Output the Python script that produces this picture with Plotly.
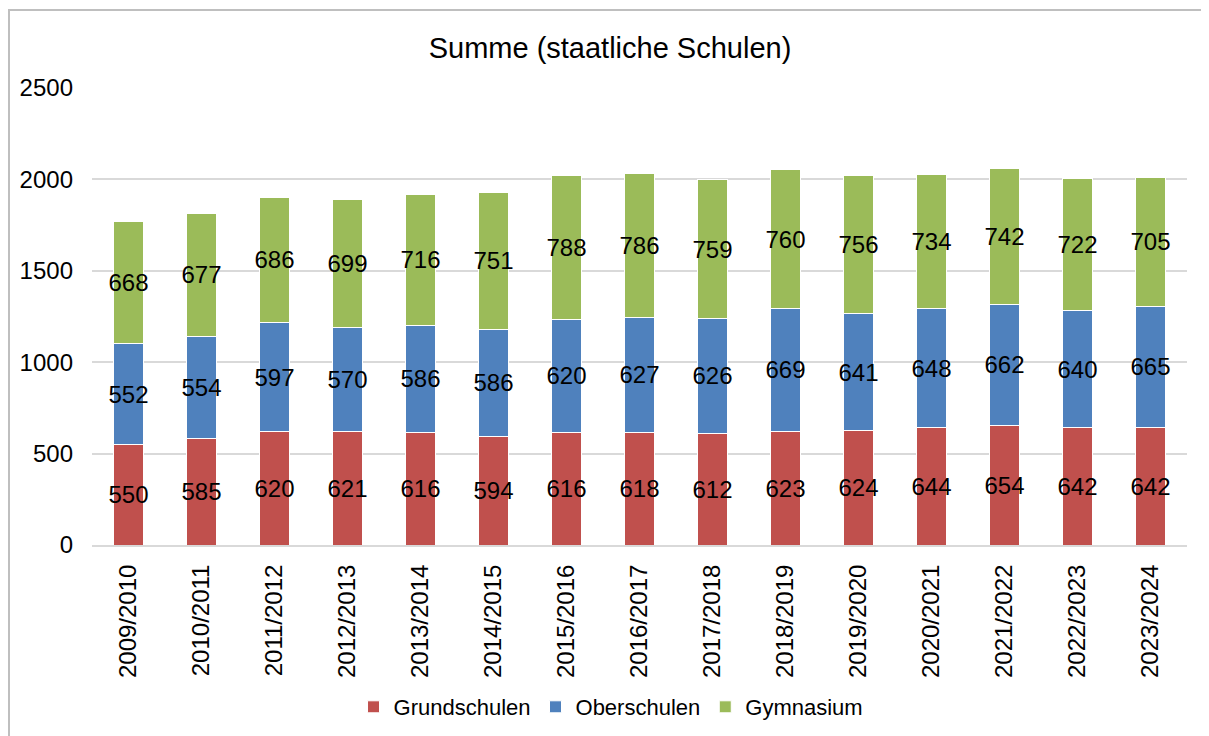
import plotly.graph_objects as go

schuljahre = ["2009/2010", "2010/2011", "2011/2012", "2012/2013", "2013/2014",
              "2014/2015", "2015/2016", "2016/2017", "2017/2018", "2018/2019",
              "2019/2020", "2020/2021", "2021/2022", "2022/2023", "2023/2024"]
grundschulen = [550, 585, 620, 621, 616, 594, 616, 618, 612, 623, 624, 644, 654, 642, 642]
oberschulen = [552, 554, 597, 570, 586, 586, 620, 627, 626, 669, 641, 648, 662, 640, 665]
gymnasium = [668, 677, 686, 699, 716, 751, 788, 786, 759, 760, 756, 734, 742, 722, 705]

serien = [("Grundschulen", grundschulen, "#C0504D"),
          ("Oberschulen", oberschulen, "#4F81BD"),
          ("Gymnasium", gymnasium, "#9BBB59")]

font = "Liberation Sans, Arial, sans-serif"

fig = go.Figure()
for name, werte, farbe in serien:
    fig.add_trace(go.Bar(
        x=schuljahre, y=werte, name=name,
        marker=dict(color=farbe, line=dict(color="white", width=1)),
        text=werte, textposition="inside", insidetextanchor="middle",
        textangle=0, constraintext="none",
        textfont=dict(family=font, size=24, color="black"),
    ))

# Rahmen um das Diagramm (page body has 8px margin, so figure is a bit smaller)
fig.add_shape(type="rect", xref="paper", yref="paper",
              x0=-0.0758, x1=1.0137, y0=-0.7, y1=1.1707,
              line=dict(color="#BFBFBF", width=2), layer="below")

fig.update_layout(
    barmode="stack", bargap=0.6,
    width=1201, height=728,
    margin=dict(l=84, r=22, t=80, b=191, autoexpand=False),
    paper_bgcolor="white", plot_bgcolor="white",
    font=dict(family=font, size=22, color="black"),
    title=dict(text="Summe (staatliche Schulen)", x=602 / 1201, xanchor="center",
               y=1 - 40 / 728, yanchor="middle", font=dict(size=29)),
    legend=dict(orientation="h", x=0.474, xanchor="center",
                yref="container", y=1 - 699 / 728, yanchor="middle",
                font=dict(size=22), traceorder="normal", itemwidth=30),
    showlegend=True,
)
fig.update_yaxes(range=[0, 2500], dtick=500, showgrid=True, gridcolor="#D9D9D9", gridwidth=2,
                 zeroline=False, showline=False, ticks="", ticklabelstandoff=18,
                 tickfont=dict(size=24))
fig.update_xaxes(tickangle=-90, showline=True, linecolor="#D9D9D9", linewidth=2,
                 ticks="", tickfont=dict(size=24), ticklabelstandoff=8)

fig.write_html("out.html")
